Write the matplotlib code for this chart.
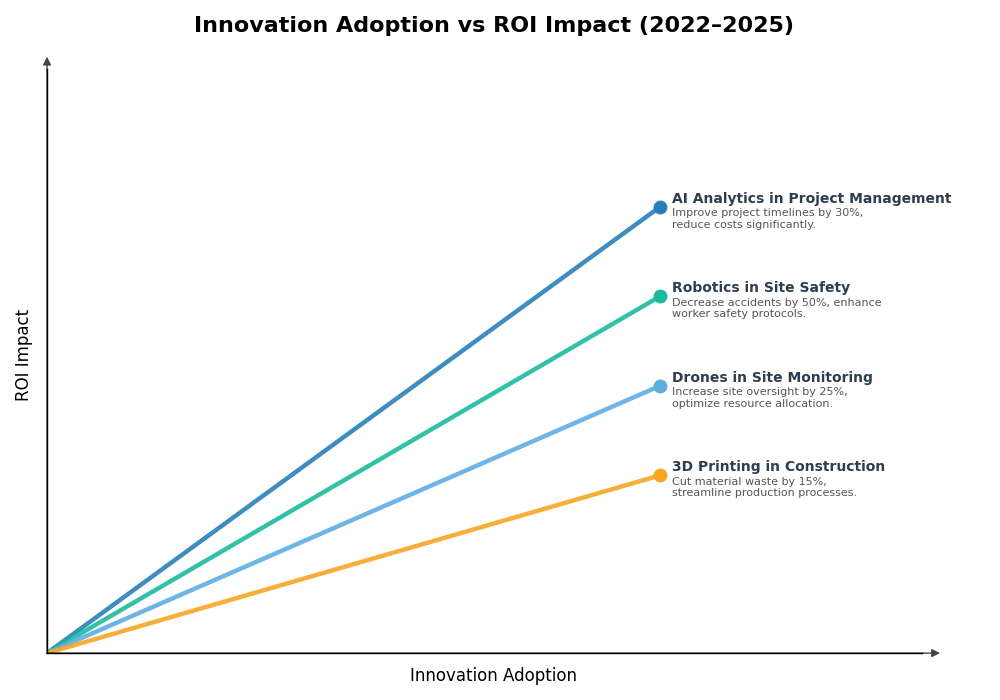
import matplotlib.pyplot as plt

names = ["AI Analytics in Project Management", "Robotics in Site Safety",
         "Drones in Site Monitoring", "3D Printing in Construction"]
notes = ["Improve project timelines by 30%,\nreduce costs significantly.",
         "Decrease accidents by 50%, enhance\nworker safety protocols.",
         "Increase site oversight by 25%,\noptimize resource allocation.",
         "Cut material waste by 15%,\nstreamline production processes."]
adoption = [0.7, 0.7, 0.7, 0.7]
roi = [0.748, 0.598, 0.448, 0.298]
colors = ["#2980b9", "#1abc9c", "#5dade2", "#f5a623"]

fig = plt.figure(figsize=(10, 7), dpi=100)
ax = fig.add_axes([0.047, 0.067, 0.893, 0.852])
ax.set_xlim(0, 1.02)
ax.set_ylim(0, 1)

for name, note, x, y, c in zip(names, notes, adoption, roi, colors):
    ax.plot([0, x], [0, y], color=c, lw=3.2, alpha=0.9, solid_capstyle="round")
    ax.plot(x, y, "o", color=c, ms=9, zorder=5)
    ax.annotate(name, (x, y), xytext=(9, 1), textcoords="offset points",
                fontsize=10, fontweight="bold", color="#2c3e50", va="bottom")
    ax.annotate(note, (x, y), xytext=(9, -1), textcoords="offset points",
                fontsize=8, color="#555555", va="top", linespacing=1.2)

for s in ["top", "right", "left", "bottom"]:
    ax.spines[s].set_visible(False)
ax.set_xticks([])
ax.set_yticks([])

# axes drawn as arrows
ax.annotate("", xy=(1.0, 0), xytext=(0, 0), xycoords="axes fraction",
            arrowprops=dict(arrowstyle="-|>", color="#444444", lw=1, mutation_scale=12, shrinkA=0, shrinkB=0))
ax.annotate("", xy=(0, 1.0), xytext=(0, 0), xycoords="axes fraction",
            arrowprops=dict(arrowstyle="-|>", color="#444444", lw=1, mutation_scale=12, shrinkA=0, shrinkB=0))
ax.plot([0, 0.98], [0, 0], color="black", lw=1, transform=ax.transAxes, clip_on=False, zorder=6)
ax.plot([0, 0], [0, 0.98], color="black", lw=1, transform=ax.transAxes, clip_on=False, zorder=6)

ax.set_xlabel("Innovation Adoption", fontsize=12, labelpad=10)
ax.set_ylabel("ROI Impact", fontsize=12, labelpad=10)
ax.set_title("Innovation Adoption vs ROI Impact (2022–2025)", fontsize=16,
             fontweight="bold", pad=18)

fig.savefig("out.png")
